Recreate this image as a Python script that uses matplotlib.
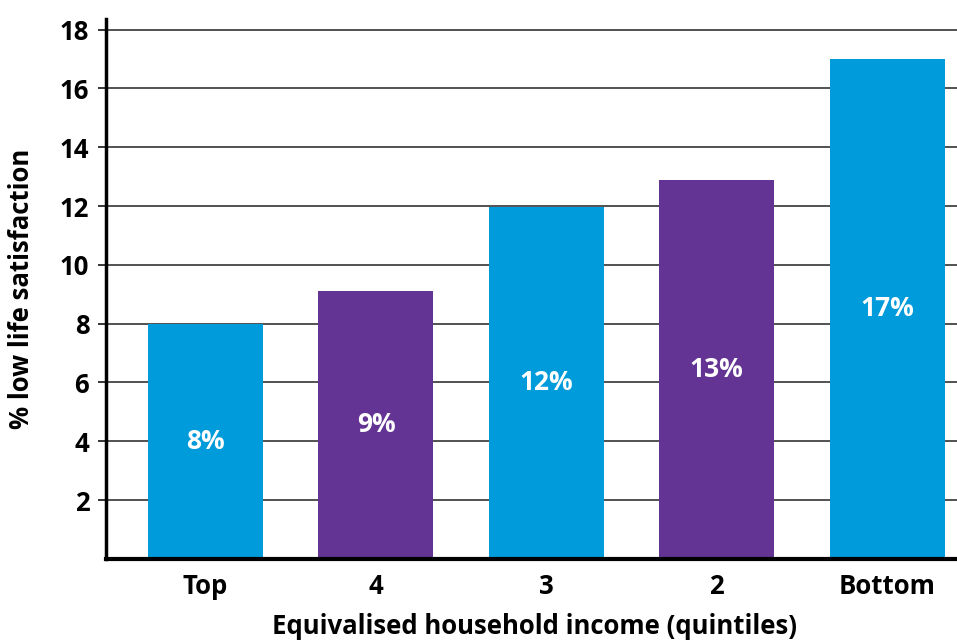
import matplotlib.pyplot as plt

quintiles = ["Top", "4", "3", "2", "Bottom"]
low_satisfaction = [8.0, 9.12, 11.98, 12.9, 17.0]
bar_labels = ["8%", "9%", "12%", "13%", "17%"]
bar_colors = ["#009bdb", "#633493", "#009bdb", "#633493", "#009bdb"]
y_ticks = [2, 4, 6, 8, 10, 12, 14, 16, 18]

plt.rcParams['font.family'] = ['Open Sans', 'DejaVu Sans']

fig = plt.figure(figsize=(9.57, 6.41), dpi=100)
ax = fig.add_axes([0.1108, 0.128, 0.8892, 0.842])

x = range(len(quintiles))
bars = ax.bar(x, low_satisfaction, width=0.675, color=bar_colors, zorder=2)

for rect, lab in zip(bars, bar_labels):
    ax.text(rect.get_x() + rect.get_width() / 2, rect.get_height() / 2, lab,
            ha='center', va='center', color='white', fontsize=19,
            fontweight='bold', zorder=3)

ax.set_xlim(-0.584, 4.41)
ax.set_ylim(0, 18.35)
ax.set_yticks(y_ticks)
ax.set_yticklabels([str(t) for t in y_ticks])
ax.set_xticks(list(x))
ax.set_xticklabels(quintiles)
ax.yaxis.grid(True, color='#222222', linewidth=1.1, zorder=1)
ax.set_axisbelow(True)

for s in ['top', 'right']:
    ax.spines[s].set_visible(False)
ax.spines['left'].set_linewidth(2.5)
ax.spines['bottom'].set_linewidth(3)

ax.tick_params(axis='y', length=6, width=1.1, pad=6, labelsize=18.5)
ax.tick_params(axis='x', length=0, pad=10, labelsize=18.5)
for lab in ax.get_xticklabels() + ax.get_yticklabels():
    lab.set_fontweight('bold')

ax.set_ylabel("% low life satisfaction", fontsize=18.5, fontweight='bold')
ax.yaxis.set_label_coords(-0.083, 0.5)
ax.set_xlabel("Equivalised household income (quintiles)", fontsize=18.5,
              fontweight='bold')
ax.xaxis.set_label_coords(0.504, -0.1)

fig.savefig("out.png", dpi=100)
